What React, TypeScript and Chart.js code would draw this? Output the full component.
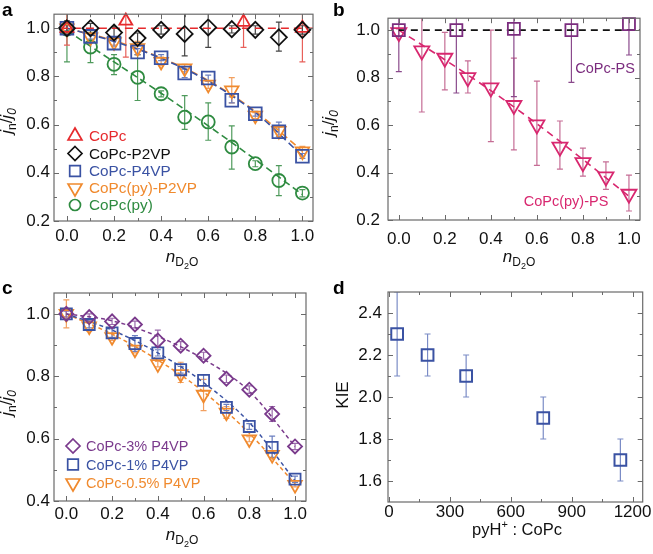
import React, { useEffect, useRef } from 'react';
import { Chart, registerables } from 'chart.js';
Chart.register(...registerables);

const FONT = "'Liberation Sans', Arial, Helvetica, sans-serif";
const W = 653;
const H = 554;

// ---------- Panel a ----------
const nD2O = [0, 0.1, 0.2, 0.3, 0.4, 0.5, 0.6, 0.7, 0.8, 0.9, 1.0];
const copcX = [0, 0.25, 0.75, 1.0];
const copcY = [1.0, 1.03, 1.025, 1.0];
const copcLo = [0.93, 0.88, 0.92, 0.86];
const copcHi = [1.07, 1.18, 1.13, 1.14];
const p2vpY = [1.0, 1.0, 0.982, 0.959, 0.993, 0.976, 1.003, 0.996, 0.993, 0.962, 0.993];
const p2vpLo = [0.97, 0.98, 0.96, 0.94, 0.975, 0.885, 0.92, 0.98, 0.975, 0.905, 0.975];
const p2vpHi = [1.03, 1.02, 1.005, 0.98, 1.01, 1.065, 1.085, 1.01, 1.01, 1.025, 1.01];
const p4vpY = [1.0, 0.966, 0.938, 0.901, 0.877, 0.814, 0.793, 0.701, 0.645, 0.57, 0.469];
const p4vpLo = [0.99, 0.955, 0.925, 0.89, 0.865, 0.795, 0.78, 0.69, 0.635, 0.55, 0.46];
const p4vpHi = [1.01, 0.975, 0.95, 0.915, 0.89, 0.83, 0.805, 0.715, 0.655, 0.61, 0.48];
const pyP2vpY = [1.0, 0.962, 0.942, 0.918, 0.861, 0.834, 0.766, 0.742, 0.638, 0.574, 0.489];
const pyP2vpLo = [0.99, 0.95, 0.93, 0.89, 0.845, 0.82, 0.75, 0.69, 0.625, 0.56, 0.47];
const pyP2vpHi = [1.01, 0.975, 0.955, 0.945, 0.88, 0.85, 0.78, 0.795, 0.65, 0.59, 0.51];
const pyY = [0.995, 0.922, 0.85, 0.796, 0.728, 0.631, 0.611, 0.507, 0.438, 0.368, 0.316];
const pyLo = [0.86, 0.857, 0.807, 0.7, 0.715, 0.58, 0.535, 0.415, 0.425, 0.305, 0.3];
const pyHi = [1.13, 0.99, 0.89, 0.89, 0.74, 0.72, 0.69, 0.595, 0.45, 0.43, 0.33];
const fitX = [0, 0.2, 0.4, 0.6, 0.8, 1.0];
const fitA_p4vp = [1.0, 0.945, 0.875, 0.78, 0.65, 0.47];
const fitA_pyP2vp = [1.0, 0.948, 0.877, 0.783, 0.655, 0.49];
const fitA_py = [0.99, 0.86, 0.73, 0.595, 0.455, 0.31];
const fitA_copcX = [-0.03, 1.045];
const fitA_copcY = [1.0, 1.0];

// ---------- Panel b ----------
const psX = [0, 0.25, 0.5, 0.75, 1.0];
const psY = [1.0, 1.0, 1.005, 1.0, 1.025];
const psLo = [0.825, 0.735, 0.72, 0.78, 0.895];
const psHi = [1.175, 1.265, 1.29, 1.22, 1.155];
const pyPsY = [0.99, 0.913, 0.882, 0.8, 0.757, 0.683, 0.601, 0.508, 0.442, 0.382, 0.309];
const pyPsLo = [0.975, 0.655, 0.748, 0.735, 0.53, 0.495, 0.43, 0.414, 0.385, 0.329, 0.238];
const pyPsHi = [1.005, 1.17, 0.99, 0.87, 1.0, 0.882, 0.785, 0.617, 0.503, 0.445, 0.389];
const fitB_psX = [0, 1.048];
const fitB_psY = [1.0, 1.0];
const fitB_pyPs = [1.0, 0.875, 0.745, 0.605, 0.455, 0.3];

// ---------- Panel c ----------
const c3Y = [1.0, 0.99, 0.976, 0.966, 0.915, 0.898, 0.866, 0.792, 0.757, 0.679, 0.575];
const c3Lo = [0.99, 0.98, 0.966, 0.955, 0.895, 0.885, 0.855, 0.78, 0.745, 0.655, 0.565];
const c3Hi = [1.01, 1.0, 0.986, 0.977, 0.948, 0.911, 0.877, 0.804, 0.769, 0.703, 0.585];
const c1Y = [1.0, 0.966, 0.939, 0.905, 0.875, 0.821, 0.787, 0.7, 0.639, 0.572, 0.47];
const c1Lo = [0.99, 0.955, 0.925, 0.88, 0.865, 0.81, 0.77, 0.69, 0.63, 0.54, 0.46];
const c1Hi = [1.01, 0.977, 0.953, 0.93, 0.885, 0.832, 0.805, 0.71, 0.648, 0.608, 0.48];
const c05Y = [1.0, 0.96, 0.926, 0.886, 0.839, 0.807, 0.741, 0.684, 0.598, 0.548, 0.452];
const c05Lo = [0.955, 0.945, 0.915, 0.875, 0.83, 0.78, 0.69, 0.665, 0.59, 0.535, 0.445];
const c05Hi = [1.045, 0.975, 0.937, 0.897, 0.848, 0.845, 0.79, 0.703, 0.606, 0.561, 0.46];
const fitC_3 = [1.0, 0.978, 0.928, 0.855, 0.752, 0.575];
const fitC_1 = [1.0, 0.948, 0.875, 0.78, 0.652, 0.465];
const fitC_05 = [1.0, 0.935, 0.852, 0.75, 0.617, 0.455];

// ---------- Panel d ----------
const ratio = [40, 190, 380, 760, 1140];
const kie = [2.3, 2.2, 2.1, 1.9, 1.7];
const kieLo = [2.1, 2.1, 2.0, 1.8, 1.6];
const kieHi = [2.5, 2.3, 2.2, 2.0, 1.8];

// ---------- tick values ----------
const xMajorN = [0, 0.2, 0.4, 0.6, 0.8, 1.0];
const xMinorN = [0.1, 0.3, 0.5, 0.7, 0.9];
const yMajorAB = [0.2, 0.4, 0.6, 0.8, 1.0];
const yMinorAB = [0.3, 0.5, 0.7, 0.9];
const yMajorC = [0.4, 0.6, 0.8, 1.0];
const yMinorC = [0.5, 0.7, 0.9];
const xMajorD = [0, 300, 600, 900, 1200];
const xMinorD = [150, 450, 750, 1050];
const yMajorD = [1.6, 1.8, 2.0, 2.2, 2.4];
const yMinorD = [1.7, 1.9, 2.1, 2.3];

// colors
const RED = '#e62a2d';
const BLACK = '#111111';
const BLUE = '#3a52a3';
const ORANGE = '#f08a2e';
const GREEN = '#2e8b40';
const PURPLE_B = '#7b2c7e';
const PINK = '#d8276f';
const PINK_ERR = '#c56d95';
const PURPLE_C = '#7a3a8c';
const BLUE_D_ERR = '#7b8cc6';

type Seg = { t: string; size: number; italic?: boolean; bold?: boolean; dy?: number };

function fontStr(s: Seg) {
  return `${s.italic ? 'italic ' : ''}${s.bold ? 'bold ' : ''}${s.size}px ${FONT}`;
}

function drawRich(ctx: CanvasRenderingContext2D, segs: Seg[], x: number, y: number, rot: number, color: string) {
  ctx.save();
  ctx.translate(x, y);
  if (rot) ctx.rotate(rot);
  const widths = segs.map((s) => {
    ctx.font = fontStr(s);
    return ctx.measureText(s.t).width;
  });
  const total = widths.reduce((a, b) => a + b, 0);
  let cx = -total / 2;
  ctx.fillStyle = color;
  ctx.textBaseline = 'alphabetic';
  ctx.textAlign = 'left';
  segs.forEach((s, i) => {
    ctx.font = fontStr(s);
    ctx.fillText(s.t, cx, s.dy || 0);
    cx += widths[i];
  });
  ctx.restore();
}

function drawMarker(ctx: CanvasRenderingContext2D, kind: string, x: number, y: number, r: number, color: string, lw: number) {
  ctx.save();
  ctx.strokeStyle = color;
  ctx.lineWidth = lw;
  ctx.beginPath();
  const s = Math.sin((2 * Math.PI) / 3);
  if (kind === 'circle') ctx.arc(x, y, r, 0, Math.PI * 2);
  else if (kind === 'square') {
    const h = r * Math.SQRT1_2;
    ctx.rect(x - h, y - h, 2 * h, 2 * h);
  } else if (kind === 'diamond') {
    ctx.moveTo(x, y - r);
    ctx.lineTo(x + r, y);
    ctx.lineTo(x, y + r);
    ctx.lineTo(x - r, y);
    ctx.closePath();
  } else if (kind === 'tri') {
    ctx.moveTo(x, y - r);
    ctx.lineTo(x + r * s, y + r * 0.5);
    ctx.lineTo(x - r * s, y + r * 0.5);
    ctx.closePath();
  } else if (kind === 'triDown') {
    ctx.moveTo(x, y + r);
    ctx.lineTo(x + r * s, y - r * 0.5);
    ctx.lineTo(x - r * s, y - r * 0.5);
    ctx.closePath();
  }
  ctx.stroke();
  ctx.restore();
}

const decoPlugin = {
  id: 'deco',
  beforeDatasetsDraw(chart: any, _args: any, opts: any) {
    const ctx = chart.ctx as CanvasRenderingContext2D;
    const { left, right, top, bottom } = chart.chartArea;
    const xs = chart.scales.x;
    const ys = chart.scales.y;
    ctx.save();
    ctx.beginPath();
    ctx.rect(left, top, right - left, bottom - top);
    ctx.clip();
    (opts.errbars || []).forEach((e: any) => {
      ctx.strokeStyle = e.color;
      ctx.lineWidth = e.width || 1.2;
      const cap = e.cap || 3;
      e.x.forEach((xv: number, i: number) => {
        const px = xs.getPixelForValue(xv);
        const pl = ys.getPixelForValue(e.lo[i]);
        const ph = ys.getPixelForValue(e.hi[i]);
        ctx.beginPath();
        ctx.moveTo(px, pl);
        ctx.lineTo(px, ph);
        ctx.moveTo(px - cap, pl);
        ctx.lineTo(px + cap, pl);
        ctx.moveTo(px - cap, ph);
        ctx.lineTo(px + cap, ph);
        ctx.stroke();
      });
    });
    ctx.restore();
  },
  afterDraw(chart: any, _args: any, opts: any) {
    const ctx = chart.ctx as CanvasRenderingContext2D;
    const { left, right, top, bottom } = chart.chartArea;
    const xs = chart.scales.x;
    const ys = chart.scales.y;
    ctx.save();
    ctx.strokeStyle = '#6a6a6a';
    ctx.lineWidth = 1;
    const t = opts.ticks || {};
    const drawX = (vals: number[], len: number) =>
      vals.forEach((v) => {
        const px = Math.round(xs.getPixelForValue(v)) + 0.5;
        ctx.beginPath();
        ctx.moveTo(px, bottom);
        ctx.lineTo(px, bottom - len);
        ctx.moveTo(px, top);
        ctx.lineTo(px, top + len);
        ctx.stroke();
      });
    const drawY = (vals: number[], len: number) =>
      vals.forEach((v) => {
        const py = Math.round(ys.getPixelForValue(v)) + 0.5;
        ctx.beginPath();
        ctx.moveTo(left, py);
        ctx.lineTo(left + len, py);
        ctx.moveTo(right, py);
        ctx.lineTo(right - len, py);
        ctx.stroke();
      });
    drawX(t.xMajor || [], 5);
    drawX(t.xMinor || [], 3);
    drawY(t.yMajor || [], 5);
    drawY(t.yMinor || [], 3);
    ctx.strokeStyle = '#6a6a6a';
    ctx.lineWidth = 1.2;
    ctx.strokeRect(left, top, right - left, bottom - top);
    (opts.legend || []).forEach((l: any) => {
      drawMarker(ctx, l.marker, l.x, l.y, l.r, l.color, 1.7);
      ctx.font = `${l.size || 14.5}px ${FONT}`;
      ctx.fillStyle = l.color;
      ctx.textAlign = 'left';
      ctx.textBaseline = 'middle';
      ctx.fillText(l.label, l.x + (l.gap || 13), l.y + 1);
    });
    (opts.texts || []).forEach((tx: any) => {
      ctx.font = tx.font;
      ctx.fillStyle = tx.color;
      ctx.textAlign = tx.align || 'center';
      ctx.textBaseline = tx.baseline || 'middle';
      ctx.fillText(tx.text, tx.x, tx.y);
    });
    (opts.rich || []).forEach((r: any) => drawRich(ctx, r.segs, r.x, r.y, r.rot || 0, r.color || '#111'));
    ctx.restore();
  },
};

function pts(xs: number[], ys: number[]) {
  return xs.map((x, i) => ({ x, y: ys[i] }));
}

function markerDs(label: string, xs: number[], ys: number[], style: string, color: string, r: number, rot = 0, lw = 1.8) {
  return {
    label,
    data: pts(xs, ys),
    pointStyle: style,
    rotation: rot,
    pointRadius: r,
    pointHoverRadius: r,
    borderColor: color,
    backgroundColor: 'rgba(0,0,0,0)',
    pointBorderColor: color,
    pointBackgroundColor: 'rgba(0,0,0,0)',
    pointBorderWidth: lw,
    showLine: false,
    clip: false,
    order: 0,
  };
}

function fitDs(xs: number[], ys: number[], color: string, dash: number[], width = 1.6) {
  return {
    label: '',
    data: pts(xs, ys),
    showLine: true,
    borderColor: color,
    borderWidth: width,
    borderDash: dash,
    pointRadius: 0,
    pointHoverRadius: 0,
    cubicInterpolationMode: 'monotone',
    fill: false,
    order: 5,
  };
}

type AxisSpec = { min: number; max: number; major: number[]; fmt: (v: number) => string; pad: number };

function makeConfig(area: { l: number; t: number; r: number; b: number }, x: AxisSpec, y: AxisSpec, datasets: any[], deco: any) {
  const axis = (a: AxisSpec, horiz: boolean) => ({
    type: 'linear',
    min: a.min,
    max: a.max,
    afterFit: (s: any) => {
      if (horiz) s.height = H - area.b;
      else s.width = area.l;
    },
    afterBuildTicks: (s: any) => {
      s.ticks = a.major.map((v) => ({ value: v }));
    },
    ticks: {
      font: { size: 17, family: FONT },
      color: '#111',
      padding: a.pad,
      autoSkip: false,
      maxRotation: 0,
      minRotation: 0,
      callback: (v: any) => a.fmt(Number(v)),
    },
    grid: { display: false, drawTicks: false },
    border: { display: false },
  });
  return {
    type: 'scatter',
    data: { datasets },
    options: {
      responsive: false,
      animation: false,
      devicePixelRatio: 1,
      events: [],
      layout: { padding: { left: 0, top: area.t, right: W - area.r, bottom: 0 } },
      scales: { x: axis(x, true), y: axis(y, false) },
      plugins: { legend: { display: false }, tooltip: { enabled: false }, deco },
    },
    plugins: [decoPlugin],
  };
}

const f1 = (v: number) => v.toFixed(1);
const f0 = (v: number) => String(Math.round(v));

const nTitle: Seg[] = [
  { t: 'n', size: 17, italic: true },
  { t: 'D', size: 12, dy: 4 },
  { t: '2', size: 9, dy: 7 },
  { t: 'O', size: 12, dy: 4 },
];
const jTitle: Seg[] = [
  { t: 'j', size: 17, italic: true },
  { t: 'n', size: 12, dy: 4 },
  { t: '/', size: 17 },
  { t: 'j', size: 17, italic: true },
  { t: '0', size: 12, italic: true, dy: 4 },
];

function configA() {
  return makeConfig(
    { l: 54, t: 8, r: 313, b: 221 },
    { min: -0.055, max: 1.045, major: xMajorN, fmt: f1, pad: 5.5 },
    { min: 0.2, max: 1.058, major: yMajorAB, fmt: f1, pad: 4 },
    [
      markerDs('CoPc-P2VP', nD2O, p2vpY, 'rectRot', BLACK, 8),
      markerDs('CoPc', copcX, copcY, 'triangle', RED, 7.5),
      markerDs('CoPc-P4VP', nD2O, p4vpY, 'rect', BLUE, 9),
      markerDs('CoPc(py)-P2VP', nD2O, pyP2vpY, 'triangle', ORANGE, 7.8, 180),
      markerDs('CoPc(py)', nD2O, pyY, 'circle', GREEN, 6.5),
      fitDs(fitA_copcX, fitA_copcY, RED, [8, 5]),
      fitDs(fitX, fitA_p4vp, BLUE, [7, 4]),
      fitDs(fitX, fitA_pyP2vp, ORANGE, [7, 4]),
      fitDs(fitX, fitA_py, GREEN, [7, 4]),
    ],
    {
      ticks: { xMajor: xMajorN, xMinor: xMinorN, yMajor: yMajorAB, yMinor: yMinorAB },
      errbars: [
        { x: nD2O, lo: pyLo, hi: pyHi, color: '#4f9a5c' },
        { x: nD2O, lo: pyP2vpLo, hi: pyP2vpHi, color: '#f2a060' },
        { x: nD2O, lo: p4vpLo, hi: p4vpHi, color: '#6b7fc0' },
        { x: copcX, lo: copcLo, hi: copcHi, color: '#e8605a' },
        { x: nD2O, lo: p2vpLo, hi: p2vpHi, color: '#444' },
      ],
      legend: [
        { marker: 'tri', x: 75, y: 136, r: 8, color: RED, label: 'CoPc', size: 15.3, gap: 14 },
        { marker: 'diamond', x: 75, y: 153.5, r: 7, color: BLACK, label: 'CoPc-P2VP', size: 15.3, gap: 14 },
        { marker: 'square', x: 75, y: 171, r: 7.5, color: BLUE, label: 'CoPc-P4VP', size: 15.3, gap: 14 },
        { marker: 'triDown', x: 75, y: 188, r: 8, color: ORANGE, label: 'CoPc(py)-P2VP', size: 15.3, gap: 14 },
        { marker: 'circle', x: 75, y: 205, r: 5.5, color: GREEN, label: 'CoPc(py)', size: 15.3, gap: 14 },
      ],
      texts: [{ text: 'a', x: 2, y: 16, font: `bold 19px ${FONT}`, color: '#000', align: 'left', baseline: 'alphabetic' }],
      rich: [
        { segs: nTitle, x: 182, y: 262 },
        { segs: jTitle, x: 12, y: 121, rot: -Math.PI / 2 },
      ],
    }
  );
}

function configB() {
  return makeConfig(
    { l: 388, t: 17, r: 640, b: 220 },
    { min: -0.047, max: 1.048, major: xMajorN, fmt: f1, pad: 9.5 },
    { min: 0.2, max: 1.05, major: yMajorAB, fmt: f1, pad: 8 },
    [
      markerDs('CoPc-PS', psX, psY, 'rect', PURPLE_B, 8.5),
      markerDs('CoPc(py)-PS', nD2O, pyPsY, 'triangle', PINK, 8.7, 180),
      fitDs(fitB_psX, fitB_psY, BLACK, [7, 5], 1.8),
      fitDs(fitX, fitB_pyPs, PINK, [7, 5], 1.6),
    ],
    {
      ticks: { xMajor: xMajorN, xMinor: xMinorN, yMajor: yMajorAB, yMinor: yMinorAB },
      errbars: [
        { x: nD2O, lo: pyPsLo, hi: pyPsHi, color: PINK_ERR },
        { x: psX, lo: psLo, hi: psHi, color: '#8a4a8c' },
      ],
      texts: [
        { text: 'b', x: 333, y: 16, font: `bold 19px ${FONT}`, color: '#000', align: 'left', baseline: 'alphabetic' },
        { text: 'CoPc-PS', x: 605, y: 69, font: `14.5px ${FONT}`, color: PURPLE_B },
        { text: 'CoPc(py)-PS', x: 566, y: 202, font: `14.5px ${FONT}`, color: PINK },
      ],
      rich: [
        { segs: nTitle, x: 519, y: 262 },
        { segs: jTitle, x: 334, y: 123, rot: -Math.PI / 2 },
      ],
    }
  );
}

function configC() {
  return makeConfig(
    { l: 54, t: 293, r: 306, b: 501 },
    { min: -0.054, max: 1.048, major: xMajorN, fmt: f1, pad: 3 },
    { min: 0.4, max: 1.067, major: yMajorC, fmt: f1, pad: 4 },
    [
      markerDs('CoPc-3% P4VP', nD2O, c3Y, 'rectRot', PURPLE_C, 7),
      markerDs('CoPc-1% P4VP', nD2O, c1Y, 'rect', BLUE, 7.8),
      markerDs('CoPc-0.5% P4VP', nD2O, c05Y, 'triangle', ORANGE, 7.8, 180),
      fitDs(fitX, fitC_3, PURPLE_C, [4, 3], 1.5),
      fitDs(fitX, fitC_1, BLUE, [4, 3], 1.5),
      fitDs(fitX, fitC_05, ORANGE, [4, 3], 1.5),
    ],
    {
      ticks: { xMajor: xMajorN, xMinor: xMinorN, yMajor: yMajorC, yMinor: yMinorC },
      errbars: [
        { x: nD2O, lo: c05Lo, hi: c05Hi, color: '#f2a060' },
        { x: nD2O, lo: c1Lo, hi: c1Hi, color: '#6b7fc0' },
        { x: nD2O, lo: c3Lo, hi: c3Hi, color: '#9a6aaa' },
      ],
      legend: [
        { marker: 'diamond', x: 73, y: 446, r: 7, color: PURPLE_C, label: 'CoPc-3% P4VP' },
        { marker: 'square', x: 73, y: 464.5, r: 7.5, color: BLUE, label: 'CoPc-1% P4VP' },
        { marker: 'triDown', x: 73, y: 483, r: 8, color: ORANGE, label: 'CoPc-0.5% P4VP' },
      ],
      texts: [{ text: 'c', x: 2, y: 294, font: `bold 19px ${FONT}`, color: '#000', align: 'left', baseline: 'alphabetic' }],
      rich: [
        { segs: nTitle, x: 182, y: 540 },
        { segs: jTitle, x: 12, y: 403, rot: -Math.PI / 2 },
      ],
    }
  );
}

function configD() {
  return makeConfig(
    { l: 388, t: 292, r: 645, b: 502 },
    { min: -5, max: 1250, major: xMajorD, fmt: f0, pad: 0 },
    { min: 1.5, max: 2.5, major: yMajorD, fmt: f1, pad: 6 },
    [markerDs('KIE', ratio, kie, 'rect', BLUE, 8.3, 0, 2)],
    {
      ticks: { xMajor: xMajorD, xMinor: xMinorD, yMajor: yMajorD, yMinor: yMinorD },
      errbars: [{ x: ratio, lo: kieLo, hi: kieHi, color: BLUE_D_ERR }],
      texts: [{ text: 'd', x: 333, y: 294, font: `bold 19px ${FONT}`, color: '#000', align: 'left', baseline: 'alphabetic' }],
      rich: [
        {
          segs: [
            { t: 'pyH', size: 16.5 },
            { t: '+', size: 11, dy: -7 },
            { t: ' : CoPc', size: 16.5 },
          ],
          x: 517,
          y: 535,
        },
        { segs: [{ t: 'KIE', size: 17 }], x: 348, y: 395, rot: -Math.PI / 2 },
      ],
    }
  );
}

function Panel({ make }: { make: () => any }) {
  const ref = useRef<HTMLCanvasElement | null>(null);
  useEffect(() => {
    if (!ref.current) return;
    const chart = new Chart(ref.current, make());
    return () => chart.destroy();
  }, [make]);
  return (
    <canvas
      ref={ref}
      width={W}
      height={H}
      style={{ position: 'absolute', left: 0, top: 0, width: W, height: H }}
    />
  );
}

export default function App() {
  return (
    <div style={{ position: 'fixed', left: 0, top: 0, width: W, height: H, background: '#fff', overflow: 'hidden' }}>
      <Panel make={configA} />
      <Panel make={configB} />
      <Panel make={configC} />
      <Panel make={configD} />
    </div>
  );
}
